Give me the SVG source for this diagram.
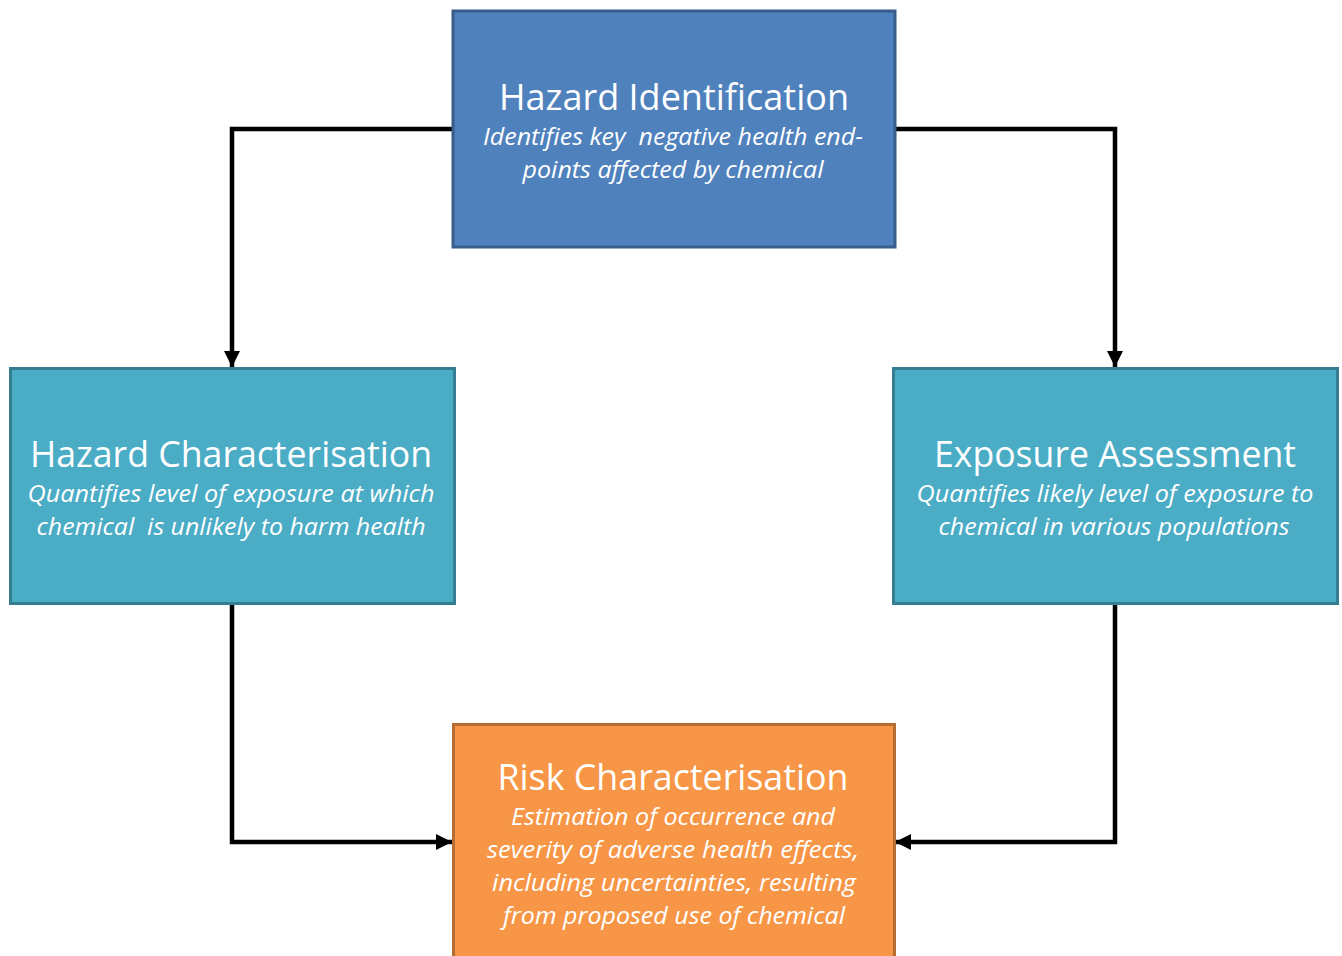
<svg xmlns="http://www.w3.org/2000/svg" width="1342" height="956" viewBox="0 0 1342 956">
<style>
.title{font-family:"Open Sans","Noto Sans","Liberation Sans",sans-serif;font-size:37px;fill:#ffffff;text-anchor:middle}
.sub{font-family:"Open Sans","Noto Sans","Liberation Sans",sans-serif;font-size:23px;font-style:italic;fill:#ffffff;text-anchor:middle;white-space:pre}
.conn{fill:none;stroke:#000000;stroke-width:4.5;stroke-linejoin:miter}
</style>
<defs>
<marker id="arrow" markerUnits="userSpaceOnUse" markerWidth="16" markerHeight="16" viewBox="0 0 16 16" refX="16" refY="8" orient="auto">
<path d="M0,0 L16,8 L0,16 Z" fill="#000000"/>
</marker>
</defs>
<rect width="1342" height="956" fill="#ffffff"/>
<g id="connectors">
<path class="conn" d="M452,129 H232 V367" marker-end="url(#arrow)"/>
<path class="conn" d="M895,129 H1115 V367" marker-end="url(#arrow)"/>
<path class="conn" d="M232,604 V842 H452" marker-end="url(#arrow)"/>
<path class="conn" d="M1115,604 V842 H895" marker-end="url(#arrow)"/>
</g>
<g id="hazard-identification">
<rect x="453" y="11" width="442" height="236" fill="#4F81BD" stroke="#385D8A" stroke-width="3"/>
<text class="title" x="674" y="110" textLength="350" lengthAdjust="spacingAndGlyphs">Hazard Identification</text>
<text class="sub" x="673" y="145" textLength="380" lengthAdjust="spacingAndGlyphs">Identifies key  negative health end-</text>
<text class="sub" x="673" y="178" textLength="301" lengthAdjust="spacingAndGlyphs">points affected by chemical</text>
</g>
<g id="hazard-characterisation">
<rect x="10.5" y="368.5" width="444" height="235" fill="#4BACC6" stroke="#357D91" stroke-width="3"/>
<text class="title" x="231" y="467" textLength="402" lengthAdjust="spacingAndGlyphs">Hazard Characterisation</text>
<text class="sub" x="231" y="502" textLength="407" lengthAdjust="spacingAndGlyphs">Quantifies level of exposure at which</text>
<text class="sub" x="231" y="535" textLength="389" lengthAdjust="spacingAndGlyphs">chemical  is unlikely to harm health</text>
</g>
<g id="exposure-assessment">
<rect x="893.5" y="368.5" width="444" height="235" fill="#4BACC6" stroke="#357D91" stroke-width="3"/>
<text class="title" x="1115" y="467" textLength="362" lengthAdjust="spacingAndGlyphs">Exposure Assessment</text>
<text class="sub" x="1115" y="502" textLength="397" lengthAdjust="spacingAndGlyphs">Quantifies likely level of exposure to</text>
<text class="sub" x="1114" y="535" textLength="351" lengthAdjust="spacingAndGlyphs">chemical in various populations</text>
</g>
<g id="risk-characterisation">
<rect x="453.5" y="724.5" width="441" height="240" fill="#F79646" stroke="#B66D31" stroke-width="3"/>
<text class="title" x="673" y="790" textLength="351" lengthAdjust="spacingAndGlyphs">Risk Characterisation</text>
<text class="sub" x="673" y="825" textLength="324" lengthAdjust="spacingAndGlyphs">Estimation of occurrence and</text>
<text class="sub" x="673" y="858" textLength="372" lengthAdjust="spacingAndGlyphs">severity of adverse health effects,</text>
<text class="sub" x="674" y="891" textLength="364" lengthAdjust="spacingAndGlyphs">including uncertainties, resulting</text>
<text class="sub" x="674" y="924" textLength="342" lengthAdjust="spacingAndGlyphs">from proposed use of chemical</text>
</g>
</svg>
